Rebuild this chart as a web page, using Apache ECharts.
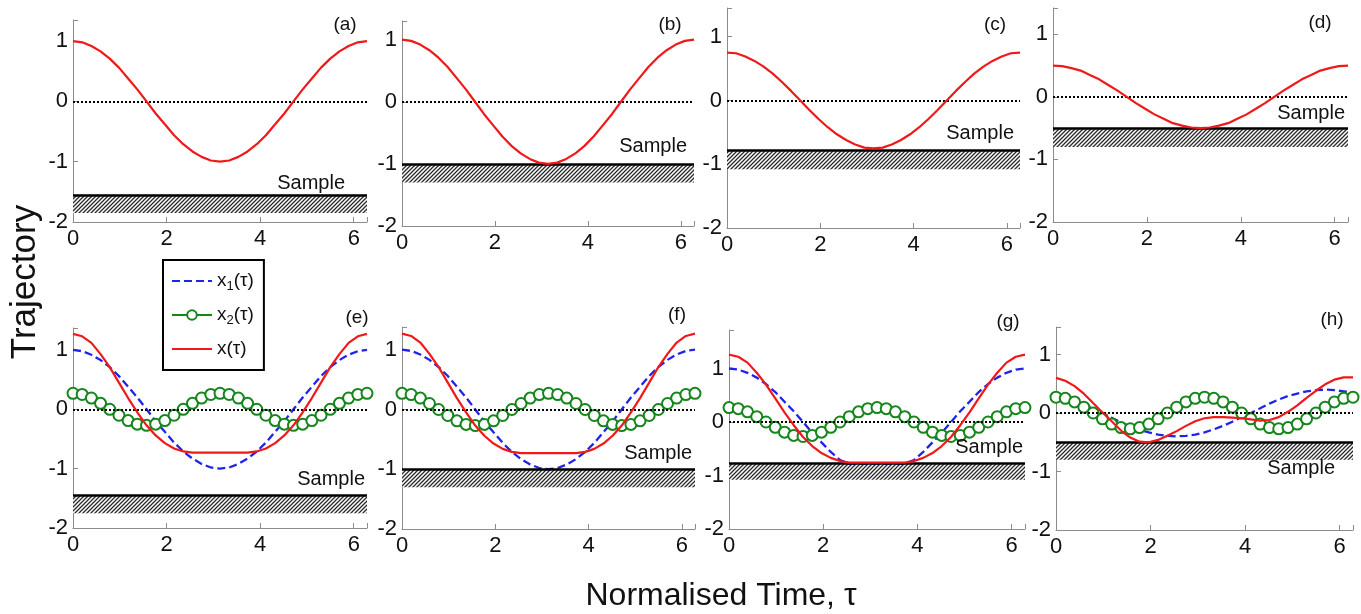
<!DOCTYPE html>
<html>
<head>
<meta charset="utf-8">
<script src="https://cdn.jsdelivr.net/npm/echarts@6/dist/echarts.min.js"></script>
<style>
    html, body { margin: 0; padding: 0; background: #fff; }
    #chart { width: 1361px; height: 614px; }
</style>
</head>
<body>
<div id="chart"></div>
<script>
/* ========== 轨迹图 (a)-(h) ========== */

// 归一化时间 τ, 0 .. 2π
const tau = [0, 0.196, 0.393, 0.589, 0.785, 0.982, 1.178, 1.374, 1.571, 1.767, 1.963, 2.160, 2.356, 2.553, 2.749, 2.945,
    3.142, 3.338, 3.534, 3.731, 3.927, 4.123, 4.320, 4.516, 4.712, 4.909, 5.105, 5.301, 5.498, 5.694, 5.890, 6.087, 6.283];

// 上排 x(τ)
const xTopAB = [1, 0.98, 0.92, 0.83, 0.71, 0.56, 0.38, 0.2, 0, -0.2, -0.38, -0.56, -0.71, -0.83, -0.92, -0.98,
    -1, -0.98, -0.92, -0.83, -0.71, -0.56, -0.38, -0.2, 0, 0.2, 0.38, 0.56, 0.71, 0.83, 0.92, 0.98, 1];
const xTopC = [0.75, 0.74, 0.69, 0.62, 0.53, 0.42, 0.29, 0.15, 0, -0.15, -0.29, -0.42, -0.53, -0.62, -0.69, -0.74,
    -0.75, -0.74, -0.69, -0.62, -0.53, -0.42, -0.29, -0.15, 0, 0.15, 0.29, 0.42, 0.53, 0.62, 0.69, 0.74, 0.75];
const xTopD = [0.5, 0.49, 0.46, 0.42, 0.35, 0.28, 0.19, 0.1, 0, -0.1, -0.19, -0.28, -0.35, -0.42, -0.46, -0.49,
    -0.5, -0.49, -0.46, -0.42, -0.35, -0.28, -0.19, -0.1, 0, 0.1, 0.19, 0.28, 0.35, 0.42, 0.46, 0.49, 0.5];

// 下排 x1(τ), x2(τ), x(τ)
const x1EF = [1, 0.98, 0.92, 0.83, 0.71, 0.56, 0.38, 0.2, 0, -0.2, -0.38, -0.56, -0.71, -0.83, -0.92, -0.98,
    -1, -0.98, -0.92, -0.83, -0.71, -0.56, -0.38, -0.2, 0, 0.2, 0.38, 0.56, 0.71, 0.83, 0.92, 0.98, 1];
const x2All = [0.27, 0.25, 0.19, 0.1, 0, -0.1, -0.19, -0.25, -0.27, -0.25, -0.19, -0.1, 0, 0.1, 0.19, 0.25,
    0.27, 0.25, 0.19, 0.1, 0, -0.1, -0.19, -0.25, -0.27, -0.25, -0.19, -0.1, 0, 0.1, 0.19, 0.25, 0.27];
const xEF = [1.27, 1.23, 1.12, 0.93, 0.71, 0.45, 0.19, -0.05, -0.27, -0.44, -0.57, -0.66, -0.71, -0.73, -0.73, -0.73,
    -0.73, -0.73, -0.73, -0.73, -0.71, -0.66, -0.57, -0.44, -0.27, -0.05, 0.19, 0.45, 0.71, 0.93, 1.12, 1.23, 1.27];
const x1G = [1, 0.98, 0.92, 0.83, 0.71, 0.56, 0.38, 0.2, 0, -0.2, -0.38, -0.56, -0.71, -0.78, -0.78, -0.78,
    -0.78, -0.78, -0.78, -0.78, -0.71, -0.56, -0.38, -0.2, 0, 0.2, 0.38, 0.56, 0.71, 0.83, 0.92, 0.98, 1];
const xG = [1.26, 1.22, 1.11, 0.92, 0.7, 0.44, 0.18, -0.06, -0.28, -0.45, -0.58, -0.67, -0.73, -0.76, -0.76, -0.76,
    -0.76, -0.76, -0.76, -0.76, -0.73, -0.67, -0.58, -0.45, -0.28, -0.06, 0.18, 0.44, 0.7, 0.92, 1.11, 1.22, 1.26];
const x1H = [0.33, 0.28, 0.22, 0.15, 0.07, 0, -0.08, -0.16, -0.23, -0.29, -0.33, -0.37, -0.39, -0.4, -0.39, -0.37,
    -0.33, -0.28, -0.22, -0.15, -0.07, 0, 0.08, 0.16, 0.23, 0.29, 0.33, 0.37, 0.39, 0.4, 0.39, 0.37, 0.35];
const xH = [0.6, 0.55, 0.46, 0.33, 0.17, 0.01, -0.14, -0.3, -0.42, -0.49, -0.5, -0.46, -0.39, -0.31, -0.22, -0.14,
    -0.09, -0.07, -0.07, -0.08, -0.09, -0.11, -0.13, -0.12, -0.07, 0.02, 0.13, 0.26, 0.38, 0.49, 0.57, 0.61, 0.61];

// 样品表面 (上沿 / 阴影下沿) 与纵轴上限
const panelNames = ["(a)", "(b)", "(c)", "(d)", "(e)", "(f)", "(g)", "(h)"];
const sampleTop = [-1.55, -1, -0.78, -0.5, -1.45, -1, -0.78, -0.5];
const sampleBottom = [-1.85, -1.3, -1.08, -0.8, -1.75, -1.3, -1.08, -0.8];
const yMax = [1.35, 1.3, 1.45, 1.42, 1.37, 1.38, 1.72, 1.47];

const panelSeries = [
    [["x", xTopAB]],
    [["x", xTopAB]],
    [["x", xTopC]],
    [["x", xTopD]],
    [["x1", x1EF], ["x2", x2All], ["x", xEF]],
    [["x1", x1EF], ["x2", x2All], ["x", xEF]],
    [["x1", x1G], ["x2", x2All], ["x", xG]],
    [["x1", x1H], ["x2", x2All], ["x", xH]],
];

// 版式: 网格 [left, top, width, height], 标号位置, Sample 标签
const layout = [
    { rect: [73, 20, 294, 202], tag: [345, 25], sPos: "insideEndTop", sDist: [22, 1] },
    { rect: [402, 21, 292, 205], tag: [670, 25], sPos: "insideEndTop", sDist: [7, 7] },
    { rect: [727, 8, 293, 220], tag: [995, 25], sPos: "insideEndTop", sDist: [6, 7] },
    { rect: [1053, 8, 295, 214], tag: [1320, 23], sPos: "insideEndTop", sDist: [3, 5] },
    { rect: [73, 328, 294, 200], tag: [357, 318], sPos: "insideEndTop", sDist: [2, 6] },
    { rect: [402, 327, 293, 202], tag: [677, 315], sPos: "insideEndTop", sDist: [3, 6] },
    { rect: [729, 330, 296, 199], tag: [1008, 322], sPos: "insideEndTop", sDist: [2, 6] },
    { rect: [1056, 327, 297, 203], tag: [1332, 320], sPos: "insideEndBottom", sDist: [18, 16] },
];

const FONT = "'Liberation Sans', Arial, sans-serif";
const RED = "#f01818", BLUE = "#1f24e8", GREEN = "#16861c", AXIS = "#8c8c8c";

function hatchPattern() {
    const c = document.createElement("canvas");
    c.width = 4; c.height = 4;
    const g = c.getContext("2d");
    g.fillStyle = "#fff";
    g.fillRect(0, 0, 4, 4);
    g.strokeStyle = "#2a2a2a";
    g.lineWidth = 1.3;
    g.beginPath();
    g.moveTo(-1, 5); g.lineTo(5, -1);
    g.moveTo(-1, 1); g.lineTo(1, -1);
    g.moveTo(3, 5); g.lineTo(5, 3);
    g.stroke();
    return c;
}
const hatch = hatchPattern();

function intLabel(v) {
    return Number.isInteger(v) ? String(v) : "";
}

function makeSeries(kind, i, values) {
    const base = {
        type: "line",
        name: kind,
        xAxisIndex: i,
        yAxisIndex: i,
        data: tau.map((t, k) => [t, values[k]]),
        silent: true,
        animation: false,
    };
    if (kind === "x1") {
        return Object.assign(base, {
            symbol: "none",
            lineStyle: { color: BLUE, width: 2.3, type: [8, 4] },
            itemStyle: { color: BLUE },
            z: 3,
        });
    }
    if (kind === "x2") {
        return Object.assign(base, {
            symbol: "emptyCircle",
            symbolSize: 11,
            showSymbol: true,
            lineStyle: { color: GREEN, width: 2.4 },
            itemStyle: { color: GREEN, borderColor: GREEN, borderWidth: 2.2 },
            z: 4,
        });
    }
    return Object.assign(base, {
        symbol: "none",
        lineStyle: { color: RED, width: 2.2 },
        itemStyle: { color: RED },
        z: 5,
    });
}

const grids = [], xAxes = [], yAxes = [], series = [], graphics = [];

layout.forEach((p, i) => {
    grids.push({ left: p.rect[0], top: p.rect[1], width: p.rect[2], height: p.rect[3], outerBoundsMode: "none" });
    xAxes.push({
        gridIndex: i, type: "value", min: 0, max: 6.2832, interval: 2,
        axisLine: { onZero: false, lineStyle: { color: AXIS, width: 1 } },
        axisTick: { inside: true, length: 5, lineStyle: { color: AXIS } },
        axisLabel: { color: "#111", fontSize: 22, fontFamily: FONT, margin: 6, formatter: intLabel },
        splitLine: { show: false },
    });
    yAxes.push({
        gridIndex: i, type: "value", min: -2, max: yMax[i], interval: 1,
        axisLine: { show: true, onZero: false, lineStyle: { color: AXIS, width: 1 } },
        axisTick: { show: true, inside: true, length: 5, lineStyle: { color: AXIS } },
        axisLabel: { color: "#111", fontSize: 22, fontFamily: FONT, margin: 5, formatter: intLabel },
        splitLine: { show: false },
    });

    panelSeries[i].forEach(([kind, values], j) => {
        const s = makeSeries(kind, i, values);
        if (j === 0) {
            s.markArea = {
                silent: true,
                itemStyle: { color: { image: hatch, repeat: "repeat" }, opacity: 1, borderWidth: 0 },
                data: [[{ yAxis: sampleTop[i] }, { yAxis: sampleBottom[i] }]],
            };
            s.markLine = {
                silent: true,
                symbol: ["none", "none"],
                animation: false,
                data: [
                    {
                        yAxis: 0,
                        lineStyle: { color: "#000", width: 2, type: [2, 2] },
                        label: { show: false },
                    },
                    {
                        yAxis: sampleTop[i],
                        lineStyle: { color: "#000", width: 2.5, type: "solid" },
                        label: {
                            show: true, formatter: "Sample", position: p.sPos, distance: p.sDist,
                            color: "#111", fontSize: 20, fontFamily: FONT,
                        },
                    },
                ],
            };
        }
        series.push(s);
    });

    graphics.push({
        type: "text", x: p.tag[0], y: p.tag[1], silent: true,
        style: { text: panelNames[i], font: "19px " + FONT, fill: "#111", align: "center", verticalAlign: "middle" },
    });
});

graphics.push({
    type: "text", x: 25, y: 282, rotation: Math.PI / 2, silent: true,
    style: { text: "Trajectory", font: "35px " + FONT, fill: "#111", align: "center", verticalAlign: "middle" },
});
graphics.push({
    type: "text", x: 721, y: 596, silent: true,
    style: { text: "Normalised Time, τ", font: "32px " + FONT, fill: "#111", align: "center", verticalAlign: "middle" },
});

const legendText = { x1: "x{sub|1}(τ)", x2: "x{sub|2}(τ)", x: "x(τ)" };

const chart = echarts.init(document.getElementById("chart"));
chart.setOption({
    animation: false,
    backgroundColor: "#fff",
    grid: grids,
    xAxis: xAxes,
    yAxis: yAxes,
    legend: {
        data: [
            { name: "x1", itemStyle: { opacity: 0 } },
            { name: "x2" },
            { name: "x", itemStyle: { opacity: 0 } },
        ],
        orient: "vertical",
        left: 163,
        top: 260,
        padding: [9, 10, 9, 8],
        itemGap: 10,
        itemWidth: 40,
        itemHeight: 12,
        backgroundColor: "#fff",
        borderColor: "#000",
        borderWidth: 2,
        borderRadius: 0,
        selectedMode: false,
        formatter: (name) => legendText[name],
        textStyle: {
            color: "#111", fontSize: 19, fontFamily: FONT, lineHeight: 24,
            rich: { sub: { fontSize: 13, fontFamily: FONT, verticalAlign: "bottom", lineHeight: 13 } },
        },
    },
    graphic: graphics,
    series,
});
</script>
</body>
</html>
